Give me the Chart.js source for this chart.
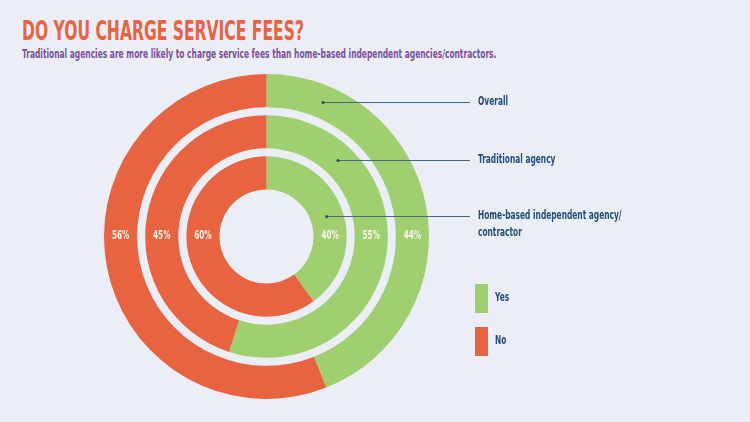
<!DOCTYPE html>
<html lang="en">
<head>
  <meta charset="UTF-8">
  <title>Do you charge service fees?</title>
  <script src="https://cdn.jsdelivr.net/npm/chart.js"></script>
  <style>
    html, body { margin: 0; padding: 0; }
    body {
      width: 750px; height: 422px; overflow: hidden; position: relative;
      background: #ebeef6;
      font-family: "Liberation Sans Narrow", "DejaVu Sans Condensed", "Roboto", sans-serif;
      font-weight: bold;
    }
    #chart { position: absolute; left: 0; top: 0; }
    /* the original face is a very narrow grotesque, so squeeze the text */
    .narrow { transform-origin: 0 0; white-space: nowrap; }
    .title {
      position: absolute; left: 22px; top: 16px; margin: 0;
      font-size: 26px; line-height: 30px; color: #e8633f;
      transform: scaleX(0.665);
    }
    .subtitle {
      position: absolute; left: 22px; top: 46px; margin: 0;
      font-size: 12px; line-height: 16px; color: #7b4f9e;
      transform: scaleX(0.695);
    }
    .note {
      position: absolute; left: 478px; font-size: 11.5px; line-height: 17px; color: #1f4d78;
      transform: scaleX(0.72);
    }
    .legend { position: absolute; left: 475px; top: 284px; }
    .legend div { position: relative; height: 29px; margin-bottom: 14px; }
    .legend span.box { position: absolute; left: 0; top: 0; width: 13px; height: 29px; }
    .legend span.txt { position: absolute; left: 20px; top: 6px; font-size: 11.5px; color: #1f4d78; transform: scaleX(0.72); }
  </style>
</head>
<body>
  <h1 class="title narrow">DO YOU CHARGE SERVICE FEES?</h1>
  <p class="subtitle narrow">Traditional agencies are more likely to charge service fees than home-based independent agencies/contractors.</p>
  <canvas id="chart" width="750" height="422"></canvas>
  <div class="note narrow" style="top:93px">Overall</div>
  <div class="note narrow" style="top:151px">Traditional agency</div>
  <div class="note narrow" style="top:207px">Home-based independent agency/<br>contractor</div>
  <div class="legend">
    <div><span class="box" style="background:#9fcf6f"></span><span class="txt narrow">Yes</span></div>
    <div><span class="box" style="background:#e8633f"></span><span class="txt narrow">No</span></div>
  </div>

  <script>
    // data
    const groups = ['Overall', 'Traditional agency', 'Home-based independent agency/contractor'];
    const answers = ['Yes', 'No'];
    const yesValues = [44, 55, 40];
    const noValues = [56, 45, 60];

    const GREEN = '#9fcf6f';
    const ORANGE = '#e8633f';
    // y of each leader line (page px), outer ring first
    const leaderY = [102, 160, 216];

    // one ring per group, with a blank ring between them as a gap
    const datasets = [];
    groups.forEach(function(g, i) {
      if (i > 0) {
        datasets.push({ label: 'gap', data: [1], backgroundColor: 'rgba(0,0,0,0)', borderWidth: 0, weight: 8, hoverBackgroundColor: 'rgba(0,0,0,0)' });
      }
      datasets.push({
        label: g,
        data: [yesValues[i], noValues[i]],
        backgroundColor: [GREEN, ORANGE],
        hoverBackgroundColor: [GREEN, ORANGE],
        borderWidth: 0,
        weight: 33
      });
    });

    function narrowText(ctx, text, x, y) {
      ctx.save();
      ctx.translate(x, y);
      ctx.scale(0.7, 1);
      ctx.fillText(text, 0, 0);
      ctx.restore();
    }

    const ringLabels = {
      id: 'ringLabels',
      afterDatasetsDraw(chart) {
        const ctx = chart.ctx;
        let ringIndex = 0;
        chart.data.datasets.forEach(function(ds, di) {
          if (ds.label === 'gap') return;
          const arc = chart.getDatasetMeta(di).data[0];
          const cx = arc.x, cy = arc.y;
          const rMid = (arc.innerRadius + arc.outerRadius) / 2;
          ctx.save();
          ctx.fillStyle = '#fbf4ea';
          ctx.font = 'bold 11.5px "Liberation Sans Narrow", "DejaVu Sans Condensed", sans-serif';
          ctx.textAlign = 'center';
          ctx.textBaseline = 'middle';
          narrowText(ctx, ds.data[0] + '%', cx + rMid, cy);
          narrowText(ctx, ds.data[1] + '%', cx - rMid, cy);

          // leader line from a dot in the green part to the note
          const y = leaderY[ringIndex];
          const dx = Math.sqrt(Math.max(0, rMid * rMid - (cy - y) * (cy - y)));
          ctx.strokeStyle = '#4a6580';
          ctx.lineWidth = 1;
          ctx.beginPath();
          ctx.moveTo(cx + dx, y + 0.5);
          ctx.lineTo(470, y + 0.5);
          ctx.stroke();
          ctx.fillStyle = '#2d4a66';
          ctx.beginPath();
          ctx.arc(cx + dx, y + 0.5, 1.6, 0, Math.PI * 2);
          ctx.fill();
          ctx.restore();
          ringIndex++;
        });
      }
    };

    new Chart(document.getElementById('chart'), {
      type: 'doughnut',
      data: { labels: answers, datasets: datasets },
      options: {
        responsive: false,
        animation: false,
        cutout: 47,
        layout: { padding: { left: 104, top: 74, right: 321, bottom: 23 } },
        plugins: {
          legend: { display: false },
          tooltip: { enabled: false }
        }
      },
      plugins: [ringLabels]
    });
  </script>
</body>
</html>
